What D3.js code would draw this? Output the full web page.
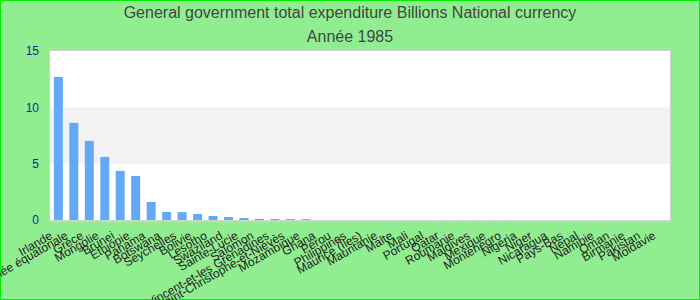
<!DOCTYPE html>
<html>
<head>
<meta charset="utf-8">
<script src="https://cdn.jsdelivr.net/npm/d3@7"></script>
<style>
  html, body { margin: 0; padding: 0; background: #90ee90; }
  svg { display: block; font-family: "Liberation Sans", Arial, sans-serif; }
</style>
</head>
<body>
<div id="chart"></div>
<script>
// data (Billions National currency, 1985)
const countries = [
  "Irlande", "Guinée équatoriale", "Grèce", "Mongolie", "Brunei", "Ethiopie",
  "Panama", "Botswana", "Seychelles", "Bolivie", "Lesotho", "Swaziland",
  "Sainte-Lucie", "Salomon", "Saint-Vincent-et-les Grenadines",
  "Saint-Christophe-et-Niévès", "Mozambique", "Ghana", "Pérou", "Philippines",
  "Maurice (Îles)", "Mauritanie", "Malte", "Mali", "Portugal", "Qatar",
  "Roumanie", "Maldives", "Mexique", "Monténégro", "Nigeria", "Niger",
  "Nicaragua", "Pays-Bas", "Népal", "Namibie", "Oman", "Birmanie",
  "Pakistan", "Moldavie"
];
const values = [
  12.7, 8.62, 7.02, 5.6, 4.36, 3.91,
  1.6, 0.71, 0.7, 0.53, 0.36, 0.27,
  0.18, 0.1, 0.09,
  0.08, 0.07, 0.008, 0.006, 0.005,
  0.004, 0.004, 0.003, 0.003, 0.003, 0.002,
  0.002, 0.002, 0.002, 0.001, 0.001, 0.001,
  0.001, 0.001, 0.001, 0.001, 0.001, 0.001,
  0.0005, 0.0005
];
const yTicks = [0, 5, 10, 15];
const titleLines = ["General government total expenditure Billions National currency", "Année 1985"];

const width = 700, height = 300;
const margin = { top: 51, right: 30, bottom: 80, left: 50 };
const innerW = width - margin.left - margin.right;
const innerH = height - margin.top - margin.bottom;

const svg = d3.select("#chart").append("svg")
  .attr("width", width)
  .attr("height", height);

// page background + green border
svg.append("rect")
  .attr("x", 0.5).attr("y", 0.5)
  .attr("width", width - 1).attr("height", height - 1)
  .attr("fill", "#90ee90")
  .attr("stroke", "#00ee00")
  .attr("stroke-width", 1);

// title
svg.selectAll("text.title")
  .data(titleLines)
  .join("text")
  .attr("class", "title")
  .attr("x", width / 2)
  .attr("y", (d, i) => 18 + i * 24)
  .attr("text-anchor", "middle")
  .attr("fill", "#444")
  .style("font-size", "16px")
  .text(d => d);

const g = svg.append("g")
  .attr("transform", `translate(${margin.left},${margin.top})`);

const x = d3.scaleBand()
  .domain(countries)
  .range([0, innerW])
  .paddingInner(0.42)
  .paddingOuter(0.25);

const y = d3.scaleLinear()
  .domain([0, 15])
  .range([innerH, 0]);

// plot area
g.append("rect")
  .attr("width", innerW)
  .attr("height", innerH)
  .attr("fill", "#fff");

// alternate band 5..10
g.append("rect")
  .attr("x", 0)
  .attr("y", y(10))
  .attr("width", innerW)
  .attr("height", y(5) - y(10))
  .attr("fill", "#f2f2f2");

// bars
g.selectAll("rect.bar")
  .data(values)
  .join("rect")
  .attr("class", "bar")
  .attr("x", (d, i) => x(countries[i]))
  .attr("y", d => y(d))
  .attr("width", x.bandwidth())
  .attr("height", d => innerH - y(d))
  .attr("fill", "#63aaf5");

// frame
g.append("rect")
  .attr("x", -0.5).attr("y", -0.5)
  .attr("width", innerW + 1)
  .attr("height", innerH + 1)
  .attr("fill", "none")
  .attr("stroke", "#d0d0d0");

g.append("line")
  .attr("x1", -1).attr("x2", innerW + 1)
  .attr("y1", innerH + 1).attr("y2", innerH + 1)
  .attr("stroke", "#d0d0d0")
  .attr("stroke-width", 2);

// y axis
const yAxis = g.append("g")
  .attr("transform", "translate(-11,0)")
  .call(d3.axisLeft(y).tickValues(yTicks).tickSize(0).tickPadding(0));
yAxis.select(".domain").remove();
yAxis.selectAll("text")
  .attr("fill", "#1c1c9c")
  .style("font-size", "12px")
  .style("font-family", "Liberation Sans, Arial, sans-serif");

// x axis labels
const xAxis = g.append("g")
  .attr("transform", `translate(0,${innerH})`)
  .call(d3.axisBottom(x).tickSize(0).tickPadding(0));
xAxis.select(".domain").remove();
xAxis.selectAll(".tick text")
  .attr("text-anchor", "end")
  .attr("fill", "#222")
  .style("font-size", "12px")
  .style("font-family", "Liberation Sans, Arial, sans-serif")
  .attr("y", 0)
  .attr("dy", 0)
  .attr("transform", "translate(-5,18) rotate(-30)");
</script>
</body>
</html>
